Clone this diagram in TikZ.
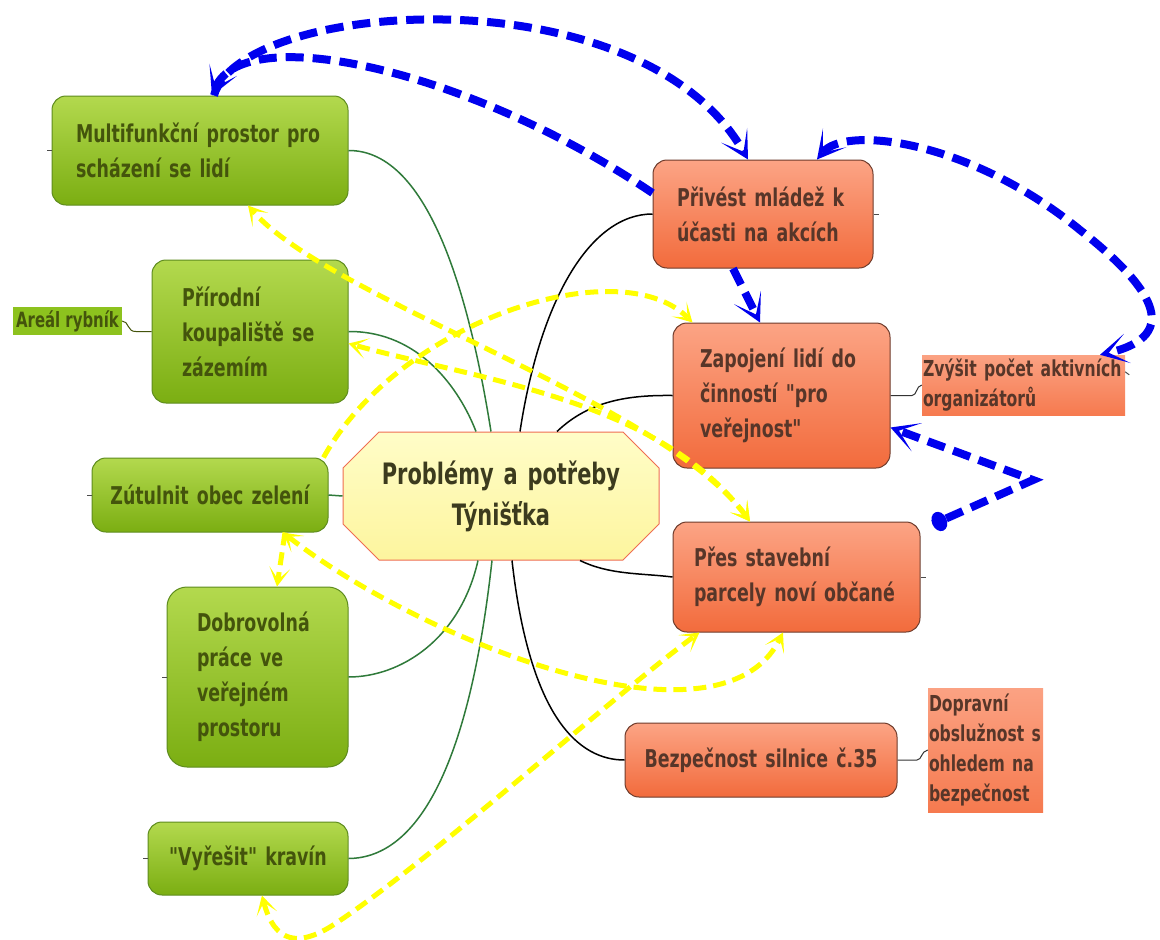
\documentclass[tikz,border=0pt]{standalone}
\usepackage{fontspec}
\newfontfamily\bx{DejaVu Sans}[FakeStretch=0.71]
\newcommand\bxf{\bx\bfseries}
\usetikzlibrary{arrows.meta,shapes.misc}
\definecolor{gtop}{HTML}{B3D94E}
\definecolor{gbot}{HTML}{7BAE12}
\definecolor{gborder}{HTML}{5E8C1E}
\definecolor{gtext}{HTML}{44540C}
\definecolor{otop}{HTML}{FCA485}
\definecolor{obot}{HTML}{F26B3C}
\definecolor{oborder}{HTML}{6E3B2B}
\definecolor{otext}{HTML}{573629}
\definecolor{ctop}{HTML}{FFFDC8}
\definecolor{cbot}{HTML}{FDF59E}
\definecolor{cborder}{HTML}{EF6E52}
\definecolor{ctext}{HTML}{3C3B1E}
\definecolor{ntop}{HTML}{FBA283}
\definecolor{nbot}{HTML}{F67A4F}
\definecolor{blueC}{HTML}{0000EE}
\definecolor{yelC}{HTML}{FFFF00}
\definecolor{glink}{HTML}{2F7A3A}
\definecolor{agreen}{HTML}{8DC21E}
\tikzset{
  gbox/.style={draw=gborder, line width=1pt, rounded corners=14pt, top color=gtop, bottom color=gbot,
    text=gtext, font=\bxf\fontsize{24.5}{35}\selectfont, align=left, inner ysep=0pt},
  obox/.style={draw=oborder, line width=1pt, rounded corners=14pt, top color=otop, bottom color=obot,
    text=otext, font=\bxf\fontsize{24.5}{35}\selectfont, align=left, inner ysep=0pt},
  onote/.style={top color=ntop, bottom color=nbot, text=otext,
    font=\bxf\fontsize{22}{30}\selectfont, align=left, inner ysep=0pt},
  anote/.style={fill=agreen, text=gtext, font=\bxf\fontsize{21}{22}\selectfont, inner sep=0pt},
  cbox/.style={chamfered rectangle, chamfered rectangle xsep=18pt, chamfered rectangle ysep=18pt,
    draw=cborder, line width=1pt, top color=ctop, bottom color=cbot, text=ctext,
    font=\bxf\fontsize{29.5}{41}\selectfont, align=center, inner sep=0pt},
  glinkline/.style={draw=glink, line width=1.5pt},
  klinkline/.style={draw=black, line width=1.5pt},
  stubline/.style={draw=black!70, line width=1pt},
  bluetip/.tip={Stealth[length=28pt,width=30pt,inset=19pt,line width=0pt]},
  yeltip/.tip={Stealth[length=19pt,width=21pt,inset=12pt,line width=0pt]},
  dottip/.tip={Circle[length=15pt,width=20pt,line width=0pt]},
  bl/.style={draw=blueC, line width=8pt, dash pattern=on 18pt off 9pt},
  yl/.style={draw=yelC, line width=5pt, dash pattern=on 13pt off 7pt},
}
\begin{document}
\begin{tikzpicture}[x=1pt,y=-1pt]
\fill[white] (0,0) rectangle (1160,940);
\useasboundingbox (0,0) rectangle (1160,940);

% green nodes
\node[gbox, minimum width=296pt, minimum height=109pt, text width=248pt, inner xsep=24pt] (multi) at (200,150.5) {Multifunkční prostor pro\\scházení se lidí};
\node[gbox, minimum width=196pt, minimum height=143pt, text width=136pt, inner xsep=30pt] (prir) at (250,331.5) {Přírodní\\koupaliště se\\zázemím};
\node[anote, minimum width=109pt, minimum height=28pt] (are) at (67.5,321) {Areál rybník};
\node[gbox, align=center, minimum width=236pt, minimum height=74pt, text width=220pt, inner xsep=8pt] (zut) at (210,495) {Zútulnit obec zelení};
\node[gbox, rounded corners=20pt, minimum width=181pt, minimum height=180pt, text width=121pt, inner xsep=30pt] (dobr) at (257.5,677) {Dobrovolná\\práce ve\\veřejném\\prostoru};
\node[gbox, align=center, minimum width=200pt, minimum height=73pt, text width=190pt, inner xsep=5pt] (krav) at (248,858.5) {"Vyřešit" kravín};

% center
\node[cbox, minimum width=308pt, minimum height=128pt, text width=280pt] (ctr) at (501,496) {Problémy a potřeby\\Týnišťka};

% orange nodes
\node[obox, minimum width=220pt, minimum height=108pt, text width=172pt, inner xsep=24pt] (priv) at (763,214) {Přivést mládež k\\účasti na akcích};
\node[obox, minimum width=217pt, minimum height=145pt, text width=163pt, inner xsep=27pt] (zap) at (781.5,395.5) {Zapojení lidí do\\činností "pro\\veřejnost"};
\node[obox, minimum width=247pt, minimum height=110pt, text width=205pt, inner xsep=21pt] (pres) at (796.5,577) {Přes stavební\\parcely noví občané};
\node[obox, align=center, minimum width=272pt, minimum height=74pt, text width=260pt, inner xsep=6pt] (bez) at (761,760) {Bezpečnost silnice č.35};
\node[onote, minimum width=203pt, minimum height=60pt, text width=201pt, inner xsep=1pt] (zvys) at (1023.5,385) {Zvýšit počet aktivních\\organizátorů};
\node[onote, minimum width=115pt, minimum height=124pt, text width=113pt, inner xsep=1pt] (dop) at (985.5,750) {Dopravní\\obslužnost s\\ohledem na\\bezpečnost};

% green links
\draw[glinkline] (multi.east) .. controls (430,150) and (470,300) .. ([xshift=-10pt]ctr.north);
\draw[glinkline] (prir.east) .. controls (420,331) and (460,390) .. ([xshift=-25pt]ctr.north);
\draw[glinkline] (zut.east) -- (ctr.west);
\draw[glinkline] ([xshift=-23pt]ctr.south) .. controls (460,640) and (400,677) .. (dobr.east);
\draw[glinkline] ([xshift=-9pt]ctr.south) .. controls (470,760) and (420,858) .. (krav.east);

% black links
\draw[klinkline] ([xshift=19pt]ctr.north) .. controls (540,300) and (590,214) .. (priv.west);
\draw[klinkline] ([xshift=56pt]ctr.north) .. controls (590,400) and (630,395) .. (zap.west);
\draw[klinkline] ([xshift=79pt]ctr.south) .. controls (610,575) and (640,573) .. (pres.west);
\draw[klinkline] ([xshift=11pt]ctr.south) .. controls (530,720) and (580,760) .. (bez.west);

% side links
\draw[draw=gtext, line width=1pt] (are.east) .. controls (129,321) and (127,332) .. (136,331.5) -- (prir.west);
\draw[draw=black!80, line width=1pt] (zap.east) -- (912,395.5) .. controls (917,395.5) and (916,386) .. (zvys.west);
\draw[draw=black!80, line width=1pt] (bez.east) -- (917,760) .. controls (922,760) and (921,751) .. (dop.west);

% stubs
\draw[stubline] (multi.west) -- ++(-5,0);
\draw[stubline] (zut.west) -- ++(-5,0);
\draw[stubline] (dobr.west) -- ++(-5,0);
\draw[stubline] (krav.west) -- ++(-5,0);
\draw[stubline] (priv.east) -- ++(5,0);
\draw[stubline] (pres.east) -- ++(5,0);
\draw[stubline] ([yshift=-17pt]zvys.north east) -- ++(4,3);

% yellow relations
\draw[yl, {yeltip}-{yeltip}] ([xshift=-46.5pt]pres.north) .. controls (660,400) and (330,300) .. ([xshift=48pt]multi.south);
\draw[yl, {yeltip}-{yeltip}] ([xshift=-46.5pt]pres.north) .. controls (660,400) and (480,380) .. ([yshift=-12pt]prir.east);
\draw[yl, -{yeltip}] ([xshift=-5pt]zut.north east) .. controls (400,320) and (620,250) .. ([xshift=20pt]zap.north west);
\draw[yl, {yeltip}-{yeltip}] ([xshift=73pt]zut.south) .. controls (420,640) and (720,760) .. ([xshift=-13.5pt]pres.south);
\coordinate (ybot) at (330,927);
\draw[yl, {yeltip}-{yeltip}] ([xshift=14pt]krav.south) .. controls (275,945) and (300,945) .. (ybot) .. controls (420,870) and (620,690) .. ([xshift=27pt]pres.south west);
\draw[yl, -{yeltip}] ([xshift=75pt]zut.south) -- ([xshift=19.5pt]dobr.north);

% blue relations
\draw[bl, -{bluetip}] ([yshift=21pt]priv.west) .. controls (470,70) and (245,20) .. ([xshift=12pt]multi.north);
\draw[bl, -{bluetip}] ([xshift=14pt]multi.north) .. controls (240,0) and (640,-30) .. ([xshift=-15pt]priv.north);
\coordinate (loopmid) at (1080,230);
\draw[bl, {bluetip}-{bluetip}] ([xshift=54pt]priv.north) .. controls (845,125) and (970,140) .. (loopmid) .. controls (1150,285) and (1185,335) .. ([xshift=76.5pt]zvys.north);
\draw[bl, -{bluetip}] ([xshift=-30pt]priv.south) -- ([xshift=-21.5pt]zap.north);
\coordinate (bk) at (1033,480);
\draw[bl, {dottip}-{bluetip}] ([xshift=12pt,yshift=-3pt]pres.north east) -- (bk) -- ([yshift=-32pt]zap.east);
\end{tikzpicture}
\end{document}
